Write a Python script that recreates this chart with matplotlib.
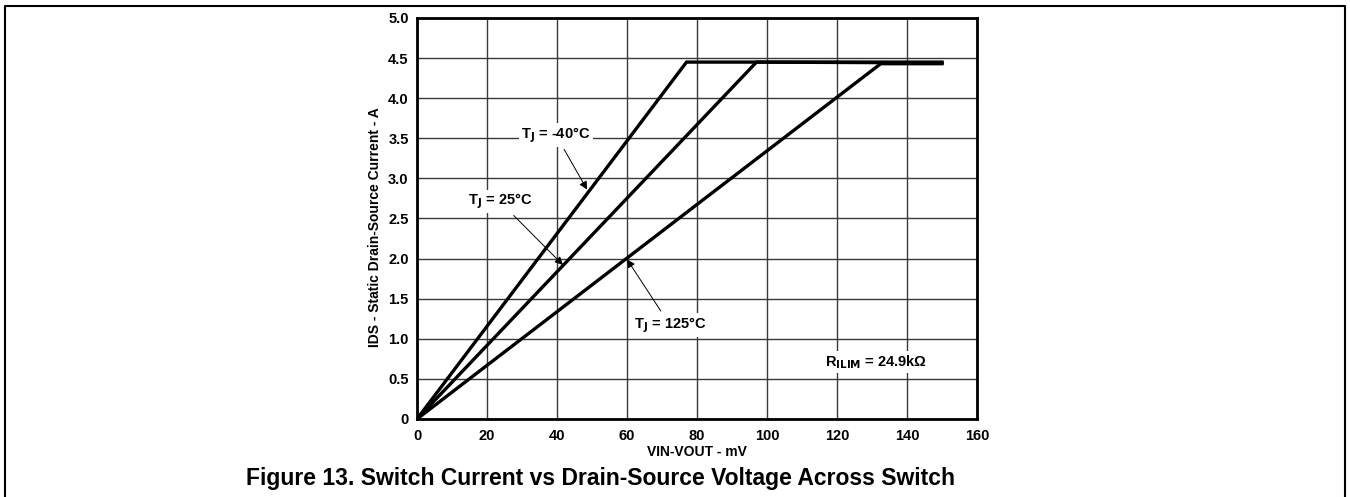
import matplotlib.pyplot as plt
from matplotlib.lines import Line2D

plt.rcParams['font.family'] = ['Liberation Sans', 'DejaVu Sans']
plt.rcParams['font.weight'] = 'bold'

# curve data: VIN-VOUT (mV) vs IDS (A)
vds_m40 = [0, 77, 150]
ids_m40 = [0, 4.45, 4.45]
vds_25 = [0, 97, 150]
ids_25 = [0, 4.45, 4.44]
vds_125 = [0, 132.5, 150]
ids_125 = [0, 4.43, 4.43]

x_ticks = [0, 20, 40, 60, 80, 100, 120, 140, 160]
y_ticks = [0, 0.5, 1.0, 1.5, 2.0, 2.5, 3.0, 3.5, 4.0, 4.5, 5.0]
y_tick_labels = ['0', '0.5', '1.0', '1.5', '2.0', '2.5', '3.0', '3.5', '4.0', '4.5', '5.0']

fig = plt.figure(figsize=(13.5, 4.97), dpi=100)
ax = fig.add_axes([0.3089, 0.157, 0.4148, 0.8068])

for xs, ys in [(vds_m40, ids_m40), (vds_25, ids_25), (vds_125, ids_125)]:
    ax.plot(xs, ys, color='black', lw=2.4, solid_joinstyle='miter', zorder=3)

ax.set_xlim(0, 160)
ax.set_ylim(0, 5.0)
ax.set_xticks(x_ticks)
ax.set_yticks(y_ticks)
ax.set_yticklabels(y_tick_labels)
ax.tick_params(length=0, labelsize=10.5, pad=7)
ax.tick_params(axis='y', pad=6)
ax.grid(True, color='#3a3a3a', lw=1.0, zorder=0)
for s in ax.spines.values():
    s.set_linewidth(2.0)

ax.set_xlabel('VIN-VOUT - mV', fontsize=10, fontweight='bold', labelpad=2)
ax.set_ylabel('IDS - Static Drain-Source Current - A', fontsize=10, fontweight='bold')
ax.yaxis.set_label_coords(-0.062, 0.479)

box = dict(facecolor='white', edgecolor='none', pad=1.5)
arrow = dict(arrowstyle='-|>', color='black', lw=0.7, mutation_scale=12, shrinkA=2, shrinkB=0)

ax.annotate('T$_\\mathbf{J}$ = -40°C', xy=(48.6, 2.86), xytext=(39.7, 3.54),
            ha='center', va='center', fontsize=10.5, fontweight='bold', bbox=box,
            arrowprops=arrow, zorder=4)
ax.annotate('T$_\\mathbf{J}$ = 25°C', xy=(41.7, 1.92), xytext=(23.7, 2.71),
            ha='center', va='center', fontsize=10.5, fontweight='bold', bbox=box,
            arrowprops=arrow, zorder=4)
ax.annotate('T$_\\mathbf{J}$ = 125°C', xy=(60, 1.99), xytext=(72.3, 1.17),
            ha='center', va='center', fontsize=10.5, fontweight='bold', bbox=box,
            arrowprops=arrow, zorder=4)
ax.text(131, 0.71, 'R$_\\mathbf{ILIM}$ = 24.9kΩ', ha='center', va='center',
        fontsize=10.5, fontweight='bold', bbox=box, zorder=4)

fig.text(0.445, 0.038, 'Figure 13. Switch Current vs Drain-Source Voltage Across Switch',
         ha='center', va='center', fontsize=16.5, fontweight='bold')

# page frame (open at the bottom)
fig.add_artist(Line2D([0.0037, 0.0037, 0.9963, 0.9963], [0.0, 0.988, 0.988, 0.0],
                      transform=fig.transFigure, color='black', lw=1.5))

fig.savefig('out.png', dpi=100)
